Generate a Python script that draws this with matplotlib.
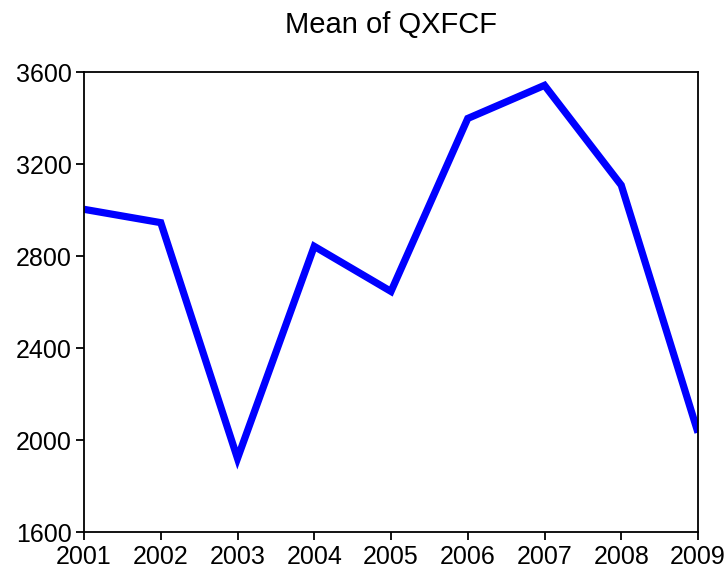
import matplotlib.pyplot as plt
import numpy as np

years = ["2001", "2002", "2003", "2004", "2005", "2006", "2007", "2008", "2009"]
mean_qxfcf = [3003, 2945, 1920, 2842, 2646, 3398, 3542, 3108, 2032]
y_ticks = [1600, 2000, 2400, 2800, 3200, 3600]

plt.rcParams['font.family'] = ['Liberation Sans', 'DejaVu Sans']

fig = plt.figure(figsize=(7.28, 5.72), dpi=100)
ax = fig.add_axes([84 / 728, 1 - 532 / 572, 614 / 728, 460 / 572])

x = np.arange(len(years))
ax.plot(x, mean_qxfcf, color='#0000ff', linewidth=5.2,
        solid_joinstyle='miter', solid_capstyle='butt')

ax.set_xlim(0, len(years) - 1)
ax.set_ylim(1600, 3600)
ax.set_xticks(x)
ax.set_xticklabels(years)
ax.set_yticks(y_ticks)
ax.tick_params(direction='out', length=6, width=1.3, labelsize=18, pad=3)
for s in ax.spines.values():
    s.set_linewidth(1.3)

ax.set_title('Mean of QXFCF', fontsize=21, pad=28)

fig.savefig('out.png', dpi=100)
